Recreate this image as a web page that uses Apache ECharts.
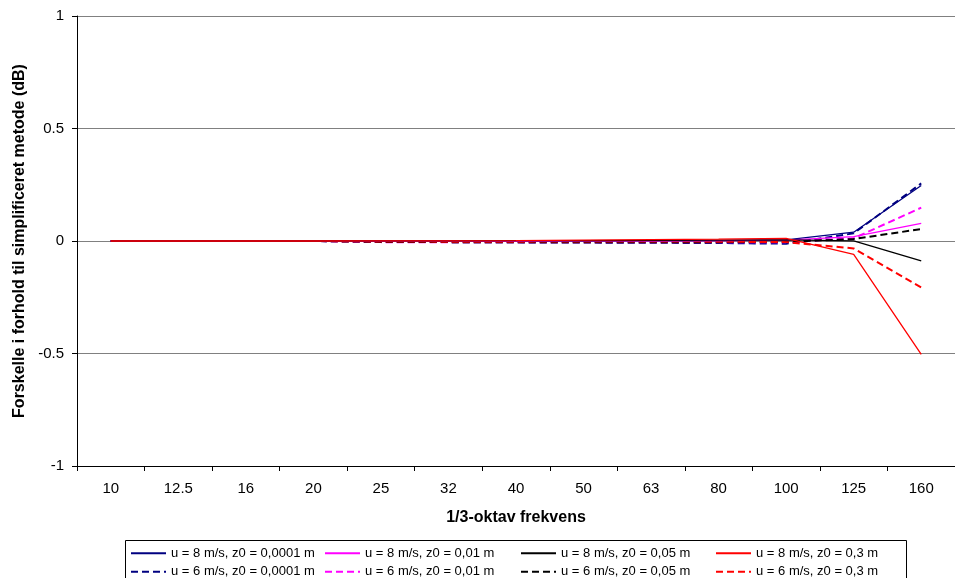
<!DOCTYPE html>
<html>
<head>
<meta charset="utf-8">
<script src="https://cdn.jsdelivr.net/npm/echarts@6/dist/echarts.min.js"></script>
<style>html,body{margin:0;padding:0;background:#fff}#c{width:955px;height:578px}</style>
</head>
<body>
<div id="c"></div>
<script>
const categories = ['10','12.5','16','20','25','32','40','50','63','80','100','125','160'];
const yTicks = [-1, -0.5, 0, 0.5, 1];

const u8_z0001 = [0,0,0,0,0,0,0,0.001,0.001,0.002,0.005,0.039,0.247];
const u8_z001  = [0,0,0,0,0,0,0,0.001,0.001,0.002,0.004,0.019,0.078];
const u8_z005  = [0,0,0,0,0.001,0.001,0.002,0.002,0.003,0.004,0.005,0.001,-0.088];
const u8_z03   = [0,0,0,0,0.001,0.001,0.002,0.004,0.006,0.008,0.012,-0.059,-0.504];
const u6_z0001 = [0,0,0,0,-0.003,-0.005,-0.006,-0.007,-0.008,-0.009,-0.012,0.034,0.256];
const u6_z001  = [0,0,0,0,-0.005,-0.005,-0.005,-0.005,-0.005,-0.005,-0.005,0.012,0.148];
const u6_z005  = [0,0,0,0,-0.004,-0.005,-0.005,-0.005,-0.005,-0.005,-0.004,0.009,0.053];
const u6_z03   = [0,0,0,0,-0.002,-0.003,-0.003,-0.002,-0.002,-0.003,-0.005,-0.033,-0.206];

const names = [
  'u = 8 m/s, z0 = 0,0001 m','u = 8 m/s, z0 = 0,01 m','u = 8 m/s, z0 = 0,05 m','u = 8 m/s, z0 = 0,3 m',
  'u = 6 m/s, z0 = 0,0001 m','u = 6 m/s, z0 = 0,01 m','u = 6 m/s, z0 = 0,05 m','u = 6 m/s, z0 = 0,3 m'
];
const values = [u8_z0001,u8_z001,u8_z005,u8_z03,u6_z0001,u6_z001,u6_z005,u6_z03];
const colors = ['#000080','#FF00FF','#000000','#FF0000','#000080','#FF00FF','#000000','#FF0000'];

const font = 'Liberation Sans';
function mkSeries(i){
  const dashed = i >= 4;
  return {
    name: names[i], type: 'line', data: values[i], symbol: 'none',
    color: colors[i], z: dashed ? 2 : 3,
    lineStyle: { color: colors[i], width: dashed ? 2 : 1.3, type: dashed ? [7,4] : 'solid' },
    emphasis: { disabled: true }, animation: false
  };
}
const order = [4,5,6,7,0,1,2,3];
const series = order.map(mkSeries);

const colX = [130, 324, 520, 715];
const rowY = [546.7, 565.3];
const legends = [];
for (let i = 0; i < 8; i++) {
  legends.push({
    data: [names[i]], left: colX[i % 4], top: rowY[Math.floor(i / 4)],
    padding: 0, itemWidth: 35, itemHeight: 12, selectedMode: false,
    itemStyle: { color: 'rgba(0,0,0,0)', borderWidth: 0, opacity: 0 },
    textStyle: { fontFamily: font, fontSize: 13, color: '#000' }
  });
}

const chart = echarts.init(document.getElementById('c'), null, { renderer: 'canvas' });
chart.setOption({
  animation: false,
  backgroundColor: '#fff',
  grid: { left: 77, right: 0, top: 16, bottom: 112, containLabel: false },
  legend: legends,
  graphic: [{ type: 'rect', shape: { x: 125.5, y: 540.5, width: 781, height: 50 },
    style: { fill: 'none', stroke: '#000', lineWidth: 1 }, silent: true }],
  xAxis: {
    type: 'category', data: categories, boundaryGap: true,
    name: '1/3-oktav frekvens', nameLocation: 'middle', nameGap: 44,
    nameTextStyle: { fontFamily: font, fontSize: 16, fontWeight: 'bold', color: '#000' },
    axisLine: { onZero: false, lineStyle: { color: '#000', width: 1 } },
    axisTick: { show: true, alignWithLabel: false, length: 5, lineStyle: { color: '#000' } },
    axisLabel: { fontFamily: font, fontSize: 15, color: '#000', margin: 15, interval: 0 },
    splitLine: { show: false }
  },
  yAxis: {
    type: 'value', min: yTicks[0], max: yTicks[yTicks.length - 1], interval: 0.5,
    name: 'Forskelle i forhold til simplificeret metode (dB)', nameLocation: 'middle', nameGap: 48,
    nameTextStyle: { fontFamily: font, fontSize: 16, fontWeight: 'bold', color: '#000' },
    axisLine: { show: true, lineStyle: { color: '#000', width: 1 } },
    axisTick: { show: true, length: 5, lineStyle: { color: '#000' } },
    axisLabel: { fontFamily: font, fontSize: 15, color: '#000', margin: 13,
      formatter: v => String(v) },
    splitLine: { show: true, lineStyle: { color: '#808080', width: 1 } }
  },
  series: series
});
</script>
</body>
</html>
